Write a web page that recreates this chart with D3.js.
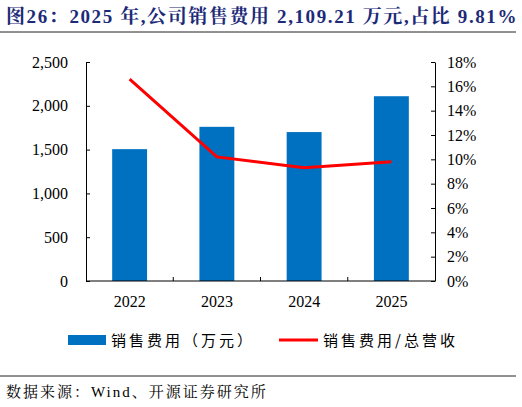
<!DOCTYPE html>
<html><head><meta charset="utf-8">
<script src="https://cdn.jsdelivr.net/npm/d3@7"></script>
<style>body{margin:0;background:#fff}</style></head>
<body><div id="chart"></div>
<script>
const years = ["2022", "2023", "2024", "2025"];
const salesExpense = [1505, 1760, 1700, 2109.21];
const expenseRatio = [0.166, 0.102, 0.093, 0.0981];
const leftTicks = [0, 500, 1000, 1500, 2000, 2500];
const rightTicks = [0, 0.02, 0.04, 0.06, 0.08, 0.10, 0.12, 0.14, 0.16, 0.18];

const width = 522, height = 407;
const serif = "'Liberation Serif','Noto Serif CJK SC','Noto Sans CJK SC',serif";
const cjk = "'Noto Sans CJK SC',sans-serif";

const svg = d3.select("#chart").append("svg")
  .attr("width", width).attr("height", height);

// Title
svg.append("text")
  .attr("x", 6).attr("y", 23)
  .attr("font-size", "19px").attr("font-weight", "bold")
  .attr("letter-spacing", "1.6px")
  .attr("font-family", serif).attr("fill", "#1c2a78")
  .text("图26：2025 年,公司销售费用 2,109.21 万元,占比 9.81%");
svg.append("line").attr("x1", 0).attr("x2", 516).attr("y1", 32).attr("y2", 32)
  .attr("stroke", "#222").attr("stroke-width", 1);

const x = d3.scaleBand().domain(years).range([86, 435]).paddingInner(0.6).paddingOuter(0.3);
const yL = d3.scaleLinear().domain([0, 2500]).range([281, 62]);
const yR = d3.scaleLinear().domain([0, 0.18]).range([281, 62]);

const g = svg.append("g");

// Bars
g.selectAll("rect.bar").data(years).join("rect")
  .attr("class", "bar")
  .attr("x", d => x(d))
  .attr("y", (d, i) => yL(salesExpense[i]))
  .attr("width", x.bandwidth())
  .attr("height", (d, i) => yL(0) - yL(salesExpense[i]))
  .attr("fill", "#0070c0");

// Line
const line = d3.line()
  .x((d, i) => x(years[i]) + x.bandwidth() / 2)
  .y(d => yR(d));
g.append("path").datum(expenseRatio)
  .attr("d", line).attr("fill", "none")
  .attr("stroke", "#ff0000").attr("stroke-width", 3);

// Axes
const left = svg.append("g").attr("transform", "translate(86,0)")
  .call(d3.axisLeft(yL).tickValues(leftTicks).tickFormat(d3.format(",")).tickSize(-4).tickSizeOuter(0).tickPadding(18));
const right = svg.append("g").attr("transform", "translate(435,0)")
  .call(d3.axisRight(yR).tickValues(rightTicks).tickFormat(d3.format(".0%")).tickSize(-4).tickSizeOuter(0).tickPadding(12));

const xb = d3.scaleLinear().domain([0, 4]).range([86, 435]);
const bottom = svg.append("g").attr("transform", "translate(0,281)");
bottom.append("line").attr("x1", 86).attr("x2", 435).attr("stroke", "#000");
bottom.selectAll("line.t").data([1, 2, 3]).join("line").attr("class", "t")
  .attr("x1", d => xb(d)).attr("x2", d => xb(d)).attr("y1", 0).attr("y2", -4).attr("stroke", "#000");
bottom.selectAll("text").data(years).join("text")
  .attr("x", d => x(d) + x.bandwidth() / 2).attr("y", 26)
  .attr("text-anchor", "middle").text(d => d);

[left, right].forEach(a => { a.select(".domain").attr("stroke", "#000"); a.selectAll("line").attr("stroke", "#000"); });
svg.selectAll("text").filter(function(){ return !this.getAttribute("font-family"); })
  .attr("font-family", serif).attr("font-size", "16px").attr("fill", "#000");

// Legend
const leg = svg.append("g").attr("transform", "translate(0,340)");
leg.append("rect").attr("x", 68).attr("y", -5).attr("width", 38).attr("height", 10).attr("fill", "#0070c0");
leg.append("text").attr("x", 111).attr("y", 6).attr("font-family", cjk).attr("font-size", "15px")
  .attr("letter-spacing", "3px").text("销售费用（万元）");
leg.append("line").attr("x1", 279).attr("x2", 318).attr("y1", 0).attr("y2", 0)
  .attr("stroke", "#ff0000").attr("stroke-width", 3);
leg.append("text").attr("x", 323).attr("y", 6).attr("font-family", cjk).attr("font-size", "15px")
  .attr("letter-spacing", "3px").text("销售费用/总营收");

// Source
svg.append("line").attr("x1", 0).attr("x2", 516).attr("y1", 376).attr("y2", 376).attr("stroke", "#222");
svg.append("text").attr("x", 6).attr("y", 397).attr("font-family", serif).attr("font-size", "15px")
  .attr("letter-spacing", "2px")
  .text("数据来源：Wind、开源证券研究所");
</script></body></html>
